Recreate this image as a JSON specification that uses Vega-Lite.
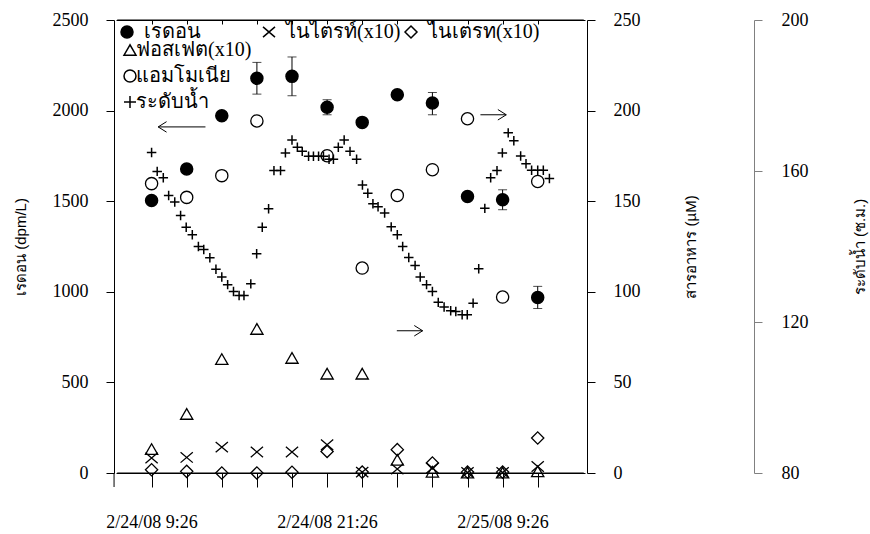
{
  "$schema": "https://vega.github.io/schema/vega-lite/v6.json",
  "width": 469,
  "height": 453,
  "autosize": "none",
  "padding": {"left": 116, "top": 20, "right": 285, "bottom": 61},
  "background": "white",
  "config": {
    "view": {"stroke": null},
    "axis": {"grid": false}
  },
  "datasets": {
    "d": [
      {"t": "2008-02-24T09:26", "s": "เรดอน", "v": 1504},
      {"t": "2008-02-24T11:50", "s": "เรดอน", "v": 1678},
      {"t": "2008-02-24T14:14", "s": "เรดอน", "v": 1972},
      {"t": "2008-02-24T16:38", "s": "เรดอน", "v": 2178, "lo": 2091, "hi": 2266},
      {"t": "2008-02-24T19:02", "s": "เรดอน", "v": 2189, "lo": 2082, "hi": 2296},
      {"t": "2008-02-24T21:26", "s": "เรดอน", "v": 2018, "lo": 1977, "hi": 2060},
      {"t": "2008-02-24T23:50", "s": "เรดอน", "v": 1935},
      {"t": "2008-02-25T02:14", "s": "เรดอน", "v": 2088},
      {"t": "2008-02-25T04:38", "s": "เรดอน", "v": 2042, "lo": 1977, "hi": 2100},
      {"t": "2008-02-25T07:02", "s": "เรดอน", "v": 1526},
      {"t": "2008-02-25T09:26", "s": "เรดอน", "v": 1508, "lo": 1453, "hi": 1563},
      {"t": "2008-02-25T11:50", "s": "เรดอน", "v": 969, "lo": 908, "hi": 1030},
      {"t": "2008-02-24T09:26", "s": "ไนไตรท์(x10)", "v": 8.3},
      {"t": "2008-02-24T11:50", "s": "ไนไตรท์(x10)", "v": 8.6},
      {"t": "2008-02-24T14:14", "s": "ไนไตรท์(x10)", "v": 14.3},
      {"t": "2008-02-24T16:38", "s": "ไนไตรท์(x10)", "v": 11.6},
      {"t": "2008-02-24T19:02", "s": "ไนไตรท์(x10)", "v": 11.6},
      {"t": "2008-02-24T21:26", "s": "ไนไตรท์(x10)", "v": 15.6},
      {"t": "2008-02-24T23:50", "s": "ไนไตรท์(x10)", "v": 0.5},
      {"t": "2008-02-25T02:14", "s": "ไนไตรท์(x10)", "v": 2.2},
      {"t": "2008-02-25T04:38", "s": "ไนไตรท์(x10)", "v": 2.8},
      {"t": "2008-02-25T07:02", "s": "ไนไตรท์(x10)", "v": 0.3},
      {"t": "2008-02-25T09:26", "s": "ไนไตรท์(x10)", "v": 0.3},
      {"t": "2008-02-25T11:50", "s": "ไนไตรท์(x10)", "v": 3.6},
      {"t": "2008-02-24T09:26", "s": "ไนเตรท(x10)", "v": 1.8},
      {"t": "2008-02-24T11:50", "s": "ไนเตรท(x10)", "v": 0.9},
      {"t": "2008-02-24T14:14", "s": "ไนเตรท(x10)", "v": 0},
      {"t": "2008-02-24T16:38", "s": "ไนเตรท(x10)", "v": 0},
      {"t": "2008-02-24T19:02", "s": "ไนเตรท(x10)", "v": 0.4},
      {"t": "2008-02-24T21:26", "s": "ไนเตรท(x10)", "v": 11.9},
      {"t": "2008-02-24T23:50", "s": "ไนเตรท(x10)", "v": 0.5},
      {"t": "2008-02-25T02:14", "s": "ไนเตรท(x10)", "v": 12.9},
      {"t": "2008-02-25T04:38", "s": "ไนเตรท(x10)", "v": 5.5},
      {"t": "2008-02-25T07:02", "s": "ไนเตรท(x10)", "v": 0.5},
      {"t": "2008-02-25T09:26", "s": "ไนเตรท(x10)", "v": 0.5},
      {"t": "2008-02-25T11:50", "s": "ไนเตรท(x10)", "v": 19.3},
      {"t": "2008-02-24T09:26", "s": "ฟอสเฟต(x10)", "v": 13.2},
      {"t": "2008-02-24T11:50", "s": "ฟอสเฟต(x10)", "v": 32.6},
      {"t": "2008-02-24T14:14", "s": "ฟอสเฟต(x10)", "v": 62.9},
      {"t": "2008-02-24T16:38", "s": "ฟอสเฟต(x10)", "v": 79.5},
      {"t": "2008-02-24T19:02", "s": "ฟอสเฟต(x10)", "v": 63.5},
      {"t": "2008-02-24T21:26", "s": "ฟอสเฟต(x10)", "v": 54.8},
      {"t": "2008-02-24T23:50", "s": "ฟอสเฟต(x10)", "v": 54.8},
      {"t": "2008-02-25T02:14", "s": "ฟอสเฟต(x10)", "v": 7.3},
      {"t": "2008-02-25T04:38", "s": "ฟอสเฟต(x10)", "v": 0.7},
      {"t": "2008-02-25T07:02", "s": "ฟอสเฟต(x10)", "v": 0.2},
      {"t": "2008-02-25T09:26", "s": "ฟอสเฟต(x10)", "v": 0.2},
      {"t": "2008-02-25T11:50", "s": "ฟอสเฟต(x10)", "v": 0.9},
      {"t": "2008-02-24T09:26", "s": "แอมโมเนีย", "v": 159.7},
      {"t": "2008-02-24T11:50", "s": "แอมโมเนีย", "v": 152.1},
      {"t": "2008-02-24T14:14", "s": "แอมโมเนีย", "v": 164.1},
      {"t": "2008-02-24T16:38", "s": "แอมโมเนีย", "v": 194.3},
      {"t": "2008-02-24T21:26", "s": "แอมโมเนีย", "v": 175.1},
      {"t": "2008-02-24T23:50", "s": "แอมโมเนีย", "v": 113.1},
      {"t": "2008-02-25T02:14", "s": "แอมโมเนีย", "v": 153.2},
      {"t": "2008-02-25T04:38", "s": "แอมโมเนีย", "v": 167.4},
      {"t": "2008-02-25T07:02", "s": "แอมโมเนีย", "v": 195.5},
      {"t": "2008-02-25T09:26", "s": "แอมโมเนีย", "v": 97.1},
      {"t": "2008-02-25T11:50", "s": "แอมโมเนีย", "v": 160.9}
    ],
    "w": [
      {"t": "2008-02-24T09:26", "s": "ระดับน้ำ", "v": 164.9},
      {"t": "2008-02-24T09:49", "s": "ระดับน้ำ", "v": 159.9},
      {"t": "2008-02-24T10:14", "s": "ระดับน้ำ", "v": 158.2},
      {"t": "2008-02-24T10:36", "s": "ระดับน้ำ", "v": 153.5},
      {"t": "2008-02-24T11:01", "s": "ระดับน้ำ", "v": 151.8},
      {"t": "2008-02-24T11:25", "s": "ระดับน้ำ", "v": 148.2},
      {"t": "2008-02-24T11:48", "s": "ระดับน้ำ", "v": 145.1},
      {"t": "2008-02-24T12:13", "s": "ระดับน้ำ", "v": 143.1},
      {"t": "2008-02-24T12:38", "s": "ระดับน้ำ", "v": 140.0},
      {"t": "2008-02-24T13:00", "s": "ระดับน้ำ", "v": 139.2},
      {"t": "2008-02-24T13:25", "s": "ระดับน้ำ", "v": 137.0},
      {"t": "2008-02-24T13:50", "s": "ระดับน้ำ", "v": 134.0},
      {"t": "2008-02-24T14:14", "s": "ระดับน้ำ", "v": 131.9},
      {"t": "2008-02-24T14:38", "s": "ระดับน้ำ", "v": 129.9},
      {"t": "2008-02-24T15:02", "s": "ระดับน้ำ", "v": 128.1},
      {"t": "2008-02-24T15:25", "s": "ระดับน้ำ", "v": 127.0},
      {"t": "2008-02-24T15:45", "s": "ระดับน้ำ", "v": 127.0},
      {"t": "2008-02-24T16:13", "s": "ระดับน้ำ", "v": 130.1},
      {"t": "2008-02-24T16:37", "s": "ระดับน้ำ", "v": 138.1},
      {"t": "2008-02-24T17:00", "s": "ระดับน้ำ", "v": 145.1},
      {"t": "2008-02-24T17:26", "s": "ระดับน้ำ", "v": 150.0},
      {"t": "2008-02-24T17:48", "s": "ระดับน้ำ", "v": 160.1},
      {"t": "2008-02-24T18:15", "s": "ระดับน้ำ", "v": 160.1},
      {"t": "2008-02-24T18:35", "s": "ระดับน้ำ", "v": 164.8},
      {"t": "2008-02-24T19:02", "s": "ระดับน้ำ", "v": 168.2},
      {"t": "2008-02-24T19:24", "s": "ระดับน้ำ", "v": 166.3},
      {"t": "2008-02-24T19:44", "s": "ระดับน้ำ", "v": 165.2},
      {"t": "2008-02-24T20:10", "s": "ระดับน้ำ", "v": 163.9},
      {"t": "2008-02-24T20:30", "s": "ระดับน้ำ", "v": 163.9},
      {"t": "2008-02-24T20:51", "s": "ระดับน้ำ", "v": 163.9},
      {"t": "2008-02-24T21:11", "s": "ระดับน้ำ", "v": 163.9},
      {"t": "2008-02-24T21:34", "s": "ระดับน้ำ", "v": 163.1},
      {"t": "2008-02-24T21:52", "s": "ระดับน้ำ", "v": 163.1},
      {"t": "2008-02-24T22:12", "s": "ระดับน้ำ", "v": 166.3},
      {"t": "2008-02-24T22:36", "s": "ระดับน้ำ", "v": 168.2},
      {"t": "2008-02-24T23:00", "s": "ระดับน้ำ", "v": 165.2},
      {"t": "2008-02-24T23:27", "s": "ระดับน้ำ", "v": 163.1},
      {"t": "2008-02-24T23:51", "s": "ระดับน้ำ", "v": 156.3},
      {"t": "2008-02-25T00:13", "s": "ระดับน้ำ", "v": 154.1},
      {"t": "2008-02-25T00:34", "s": "ระดับน้ำ", "v": 151.3},
      {"t": "2008-02-25T00:55", "s": "ระดับน้ำ", "v": 150.5},
      {"t": "2008-02-25T01:22", "s": "ระดับน้ำ", "v": 148.9},
      {"t": "2008-02-25T01:49", "s": "ระดับน้ำ", "v": 145.2},
      {"t": "2008-02-25T02:14", "s": "ระดับน้ำ", "v": 143.1},
      {"t": "2008-02-25T02:36", "s": "ระดับน้ำ", "v": 140.0},
      {"t": "2008-02-25T03:01", "s": "ระดับน้ำ", "v": 137.1},
      {"t": "2008-02-25T03:27", "s": "ระดับน้ำ", "v": 135.0},
      {"t": "2008-02-25T03:48", "s": "ระดับน้ำ", "v": 131.9},
      {"t": "2008-02-25T04:14", "s": "ระดับน้ำ", "v": 129.9},
      {"t": "2008-02-25T04:38", "s": "ระดับน้ำ", "v": 128.1},
      {"t": "2008-02-25T05:02", "s": "ระดับน้ำ", "v": 125.2},
      {"t": "2008-02-25T05:26", "s": "ระดับน้ำ", "v": 124.0},
      {"t": "2008-02-25T05:53", "s": "ระดับน้ำ", "v": 123.0},
      {"t": "2008-02-25T06:14", "s": "ระดับน้ำ", "v": 122.8},
      {"t": "2008-02-25T06:40", "s": "ระดับน้ำ", "v": 121.9},
      {"t": "2008-02-25T07:01", "s": "ระดับน้ำ", "v": 121.9},
      {"t": "2008-02-25T07:25", "s": "ระดับน้ำ", "v": 125.0},
      {"t": "2008-02-25T07:48", "s": "ระดับน้ำ", "v": 134.1},
      {"t": "2008-02-25T08:13", "s": "ระดับน้ำ", "v": 150.1},
      {"t": "2008-02-25T08:37", "s": "ระดับน้ำ", "v": 158.2},
      {"t": "2008-02-25T09:03", "s": "ระดับน้ำ", "v": 160.1},
      {"t": "2008-02-25T09:25", "s": "ระดับน้ำ", "v": 164.8},
      {"t": "2008-02-25T09:49", "s": "ระดับน้ำ", "v": 170.1},
      {"t": "2008-02-25T10:12", "s": "ระดับน้ำ", "v": 168.0},
      {"t": "2008-02-25T10:40", "s": "ระดับน้ำ", "v": 164.0},
      {"t": "2008-02-25T11:02", "s": "ระดับน้ำ", "v": 161.9},
      {"t": "2008-02-25T11:25", "s": "ระดับน้ำ", "v": 160.2},
      {"t": "2008-02-25T11:50", "s": "ระดับน้ำ", "v": 160.2},
      {"t": "2008-02-25T12:13", "s": "ระดับน้ำ", "v": 160.2},
      {"t": "2008-02-25T12:38", "s": "ระดับน้ำ", "v": 158.0}
    ],
    "ar": [
      {"t": "2008-02-24T09:53", "t2": "2008-02-24T13:07", "tip": "2008-02-24T09:53", "v": 191.0, "d": "left"},
      {"t": "2008-02-25T07:55", "t2": "2008-02-25T09:41", "tip": "2008-02-25T09:41", "v": 197.7, "d": "right"},
      {"t": "2008-02-25T02:12", "t2": "2008-02-25T03:58", "tip": "2008-02-25T03:58", "v": 78.5, "d": "right"}
    ],
    "frame": [
      {"a": "2008-02-24T07:05", "b": "2008-02-25T14:59", "y": 0},
      {"a": "2008-02-24T07:05", "b": "2008-02-25T14:59", "y": 2500}
    ],
    "ext": [
      {"a": "2008-02-24T06:52", "y": 0, "y2": -77.3}
    ]
  },
  "layer": [
    {
      "data": {"name": "frame"},
      "mark": {"type": "rule", "color": "black", "strokeWidth": 1},
      "encoding": {
        "x": {"field": "a", "type": "temporal", "axis": null,
          "scale": {"domain": [{"year": 2008, "month": 2, "date": 24, "hours": 7, "minutes": 0}, {"year": 2008, "month": 2, "date": 25, "hours": 15, "minutes": 4}]}},
        "x2": {"field": "b"},
        "y": {"field": "y", "type": "quantitative", "scale": {"domain": [0, 2500]}, "axis": null}
      }
    },
    {
      "data": {"name": "ext"},
      "mark": {"type": "rule", "color": "black", "strokeWidth": 1},
      "encoding": {
        "x": {"field": "a", "type": "temporal", "axis": null,
          "scale": {"domain": [{"year": 2008, "month": 2, "date": 24, "hours": 7, "minutes": 0}, {"year": 2008, "month": 2, "date": 25, "hours": 15, "minutes": 4}]}},
        "y": {"field": "y", "type": "quantitative", "scale": {"domain": [0, 2500]}, "axis": null},
        "y2": {"field": "y2"}
      }
    },
    {
      "data": {"name": "d"},
      "transform": [{"filter": {"field": "lo", "valid": true}}],
      "mark": {"type": "errorbar", "ticks": {"size": 9, "color": "black", "thickness": 1}, "rule": {"color": "black", "strokeWidth": 1}},
      "encoding": {
        "x": {"field": "t", "type": "temporal", "axis": null,
          "scale": {"domain": [{"year": 2008, "month": 2, "date": 24, "hours": 7, "minutes": 0}, {"year": 2008, "month": 2, "date": 25, "hours": 15, "minutes": 4}]}},
        "y": {"field": "lo", "type": "quantitative", "scale": {"domain": [0, 2500]}, "axis": null},
        "y2": {"field": "hi"}
      }
    },
    {
      "data": {"name": "d"},
      "encoding": {
        "shape": {"field": "s", "type": "nominal",
          "scale": {"domain": ["เรดอน", "ไนไตรท์(x10)", "ไนเตรท(x10)"], "range": ["circle", "M-1,-0.85L1,0.85M-1,0.85L1,-0.85", "diamond"]},
          "legend": {"orient": "none", "legendX": 1, "legendY": 2, "direction": "horizontal", "columns": 3, "gridAlign": "all", "columnPadding": 0, "labelOffset": 7, "title": null, "padding": 0,
            "labelFont": "Liberation Serif", "labelFontSize": 20, "labelColor": "black", "labelLimit": 300, "symbolStrokeColor": "black", "symbolStrokeWidth": 1.5, "symbolSize": 144}},
        "fill": {"field": "s", "type": "nominal",
          "scale": {"domain": ["เรดอน", "ไนไตรท์(x10)", "ไนเตรท(x10)"], "range": ["black", "transparent", "transparent"]},
          "legend": {"orient": "none", "legendX": 1, "legendY": 2, "direction": "horizontal", "columns": 3, "gridAlign": "all", "columnPadding": 0, "labelOffset": 7, "title": null, "padding": 0,
            "labelFont": "Liberation Serif", "labelFontSize": 20, "labelColor": "black", "labelLimit": 300, "symbolStrokeColor": "black", "symbolStrokeWidth": 1.5, "symbolSize": 144}},
        "stroke": {"field": "s", "type": "nominal",
          "scale": {"domain": ["เรดอน", "ไนไตรท์(x10)", "ไนเตรท(x10)"], "range": ["black", "black", "black"]},
          "legend": {"orient": "none", "legendX": 1, "legendY": 2, "direction": "horizontal", "columns": 3, "gridAlign": "all", "columnPadding": 0, "labelOffset": 7, "title": null, "padding": 0,
            "labelFont": "Liberation Serif", "labelFontSize": 20, "labelColor": "black", "labelLimit": 300, "symbolStrokeWidth": 1.5, "symbolSize": 144}}
      },
      "layer": [
        {
          "transform": [{"filter": {"field": "s", "equal": "เรดอน"}}],
          "mark": {"type": "point", "size": 144, "strokeWidth": 1.5, "opacity": 1},
          "encoding": {
            "x": {"field": "t", "type": "temporal",
              "scale": {"domain": [{"year": 2008, "month": 2, "date": 24, "hours": 7, "minutes": 0}, {"year": 2008, "month": 2, "date": 25, "hours": 15, "minutes": 4}]},
              "axis": {"orient": "bottom", "title": null, "grid": false, "domain": true, "ticks": true, "domainColor": "black", "tickColor": "black", "domainWidth": 1, "tickWidth": 1, "tickSize": 14,
                "labelFont": "Liberation Serif", "labelFontSize": 18, "labelColor": "black", "labelPadding": 26, "labelOverlap": false, "labelFlush": false, "labelAngle": 0,
                "labelExpr": "((hours(datum.value) == 9 || hours(datum.value) == 21) && minutes(datum.value) == 26) ? timeFormat(datum.value, '%-m/%-d/%y %-H:%M') : ''",
                "values": [
                  {"year": 2008, "month": 2, "date": 24, "hours": 9, "minutes": 26},
                  {"year": 2008, "month": 2, "date": 24, "hours": 11, "minutes": 50},
                  {"year": 2008, "month": 2, "date": 24, "hours": 14, "minutes": 14},
                  {"year": 2008, "month": 2, "date": 24, "hours": 16, "minutes": 38},
                  {"year": 2008, "month": 2, "date": 24, "hours": 19, "minutes": 2},
                  {"year": 2008, "month": 2, "date": 24, "hours": 21, "minutes": 26},
                  {"year": 2008, "month": 2, "date": 24, "hours": 23, "minutes": 50},
                  {"year": 2008, "month": 2, "date": 25, "hours": 2, "minutes": 14},
                  {"year": 2008, "month": 2, "date": 25, "hours": 4, "minutes": 38},
                  {"year": 2008, "month": 2, "date": 25, "hours": 7, "minutes": 2},
                  {"year": 2008, "month": 2, "date": 25, "hours": 9, "minutes": 26},
                  {"year": 2008, "month": 2, "date": 25, "hours": 11, "minutes": 50}
                ]}},
            "y": {"field": "v", "type": "quantitative", "scale": {"domain": [0, 2500]},
              "axis": {"orient": "left", "offset": 2, "values": [0, 500, 1000, 1500, 2000, 2500], "format": "d", "grid": false, "domain": true, "ticks": true, "domainColor": "black", "tickColor": "black", "domainWidth": 1, "tickWidth": 1, "tickSize": 8,
                "labelFont": "Liberation Serif", "labelFontSize": 18, "labelColor": "black", "labelPadding": 18,
                "title": "เรดอน (dpm/L)", "titleFont": "Liberation Sans", "titleFontSize": 15, "titleFontWeight": "normal", "titleColor": "black",
                "titleX": -94, "titleY": 226.5, "titleAngle": -90, "titleAlign": "center", "titleBaseline": "middle"}}
          }
        },
        {
          "transform": [{"filter": {"field": "s", "oneOf": ["ไนไตรท์(x10)", "ไนเตรท(x10)"]}}],
          "mark": {"type": "point", "size": 150, "strokeWidth": 1.3, "opacity": 1},
          "encoding": {
            "x": {"field": "t", "type": "temporal",
              "scale": {"domain": [{"year": 2008, "month": 2, "date": 24, "hours": 7, "minutes": 0}, {"year": 2008, "month": 2, "date": 25, "hours": 15, "minutes": 4}]},
              "axis": {"orient": "top", "title": null, "labels": false, "grid": false, "domain": true, "ticks": true, "domainColor": "black", "tickColor": "black", "domainWidth": 1, "tickWidth": 1, "tickSize": -4,
                "values": [
                  {"year": 2008, "month": 2, "date": 24, "hours": 9, "minutes": 26},
                  {"year": 2008, "month": 2, "date": 24, "hours": 11, "minutes": 50},
                  {"year": 2008, "month": 2, "date": 24, "hours": 14, "minutes": 14},
                  {"year": 2008, "month": 2, "date": 24, "hours": 16, "minutes": 38},
                  {"year": 2008, "month": 2, "date": 24, "hours": 19, "minutes": 2},
                  {"year": 2008, "month": 2, "date": 24, "hours": 21, "minutes": 26},
                  {"year": 2008, "month": 2, "date": 24, "hours": 23, "minutes": 50},
                  {"year": 2008, "month": 2, "date": 25, "hours": 2, "minutes": 14},
                  {"year": 2008, "month": 2, "date": 25, "hours": 4, "minutes": 38},
                  {"year": 2008, "month": 2, "date": 25, "hours": 7, "minutes": 2},
                  {"year": 2008, "month": 2, "date": 25, "hours": 9, "minutes": 26},
                  {"year": 2008, "month": 2, "date": 25, "hours": 11, "minutes": 50}
                ]}},
            "y": {"field": "v", "type": "quantitative", "scale": {"domain": [0, 250]},
              "axis": {"orient": "right", "offset": 2, "values": [0, 50, 100, 150, 200, 250], "grid": false, "domain": true, "ticks": true, "domainColor": "black", "tickColor": "black", "domainWidth": 1, "tickWidth": 1, "tickSize": 8,
                "labelFont": "Liberation Serif", "labelFontSize": 18, "labelColor": "black", "labelPadding": 18,
                "title": "สารอาหาร (µM)", "titleFont": "Liberation Sans", "titleFontSize": 15, "titleFontWeight": "normal", "titleColor": "black",
                "titleX": 103, "titleY": 226.5, "titleAngle": -90, "titleAlign": "center", "titleBaseline": "middle"}}
          }
        }
      ],
      "resolve": {"scale": {"y": "independent"}}
    },
    {
      "encoding": {
        "shape": {"field": "s", "type": "nominal",
          "scale": {"domain": ["ฟอสเฟต(x10)", "แอมโมเนีย", "ระดับน้ำ"], "range": ["triangle-up", "circle", "M-1,0L1,0M0,-1L0,1"]},
          "legend": {"orient": "none", "legendX": 4, "legendY": 20, "direction": "vertical", "rowPadding": 6, "labelOffset": -4, "title": null, "padding": 0,
            "labelFont": "Liberation Serif", "labelFontSize": 20, "labelColor": "black", "labelLimit": 300, "symbolStrokeColor": "black", "symbolStrokeWidth": 1.5, "symbolSize": 144, "symbolFillColor": "transparent"}}
      },
      "layer": [
        {
          "data": {"name": "d"},
          "transform": [{"filter": {"field": "s", "oneOf": ["ฟอสเฟต(x10)", "แอมโมเนีย"]}}],
          "mark": {"type": "point", "filled": false, "size": 150, "color": "black", "strokeWidth": 1.3, "opacity": 1},
          "encoding": {
            "x": {"field": "t", "type": "temporal", "axis": null,
              "scale": {"domain": [{"year": 2008, "month": 2, "date": 24, "hours": 7, "minutes": 0}, {"year": 2008, "month": 2, "date": 25, "hours": 15, "minutes": 4}]}},
            "y": {"field": "v", "type": "quantitative", "scale": {"domain": [0, 250]}, "axis": null}
          }
        },
        {
          "data": {"name": "w"},
          "mark": {"type": "point", "filled": false, "size": 90, "color": "black", "strokeWidth": 1.5, "opacity": 1},
          "encoding": {
            "x": {"field": "t", "type": "temporal", "axis": null,
              "scale": {"domain": [{"year": 2008, "month": 2, "date": 24, "hours": 7, "minutes": 0}, {"year": 2008, "month": 2, "date": 25, "hours": 15, "minutes": 4}]}},
            "y": {"field": "v", "type": "quantitative", "scale": {"domain": [80, 200]},
              "axis": {"orient": "right", "offset": 169, "values": [80, 120, 160, 200], "grid": false, "domain": true, "ticks": true, "domainColor": "#808080", "tickColor": "#808080", "domainWidth": 1, "tickWidth": 1, "tickSize": 8,
                "labelFont": "Liberation Serif", "labelFontSize": 18, "labelColor": "black", "labelPadding": 19,
                "title": "ระดับน้ำ (ซ.ม.)", "titleFont": "Liberation Sans", "titleFontSize": 15, "titleFontWeight": "normal", "titleColor": "black",
                "titleX": 105, "titleY": 226.5, "titleAngle": -90, "titleAlign": "center", "titleBaseline": "middle"}}
          }
        }
      ],
      "resolve": {"scale": {"y": "independent"}}
    },
    {
      "data": {"name": "ar"},
      "layer": [
        {
          "mark": {"type": "rule", "color": "black", "strokeWidth": 1},
          "encoding": {
            "x": {"field": "t", "type": "temporal", "axis": null,
              "scale": {"domain": [{"year": 2008, "month": 2, "date": 24, "hours": 7, "minutes": 0}, {"year": 2008, "month": 2, "date": 25, "hours": 15, "minutes": 4}]}},
            "x2": {"field": "t2"},
            "y": {"field": "v", "type": "quantitative", "scale": {"domain": [0, 250]}, "axis": null}
          }
        },
        {
          "mark": {"type": "point", "filled": false, "size": 110, "color": "black", "strokeWidth": 1, "opacity": 1},
          "encoding": {
            "x": {"field": "tip", "type": "temporal", "axis": null,
              "scale": {"domain": [{"year": 2008, "month": 2, "date": 24, "hours": 7, "minutes": 0}, {"year": 2008, "month": 2, "date": 25, "hours": 15, "minutes": 4}]}},
            "y": {"field": "v", "type": "quantitative", "scale": {"domain": [0, 250]}, "axis": null},
            "shape": {"field": "d", "type": "nominal", "legend": null,
              "scale": {"domain": ["left", "right"], "range": ["M1.6,-1L0,0L1.6,1", "M-1.6,-1L0,0L-1.6,1"]}}
          }
        }
      ]
    }
  ],
  "resolve": {"scale": {"y": "independent", "shape": "independent", "fill": "independent", "stroke": "independent"}}
}
